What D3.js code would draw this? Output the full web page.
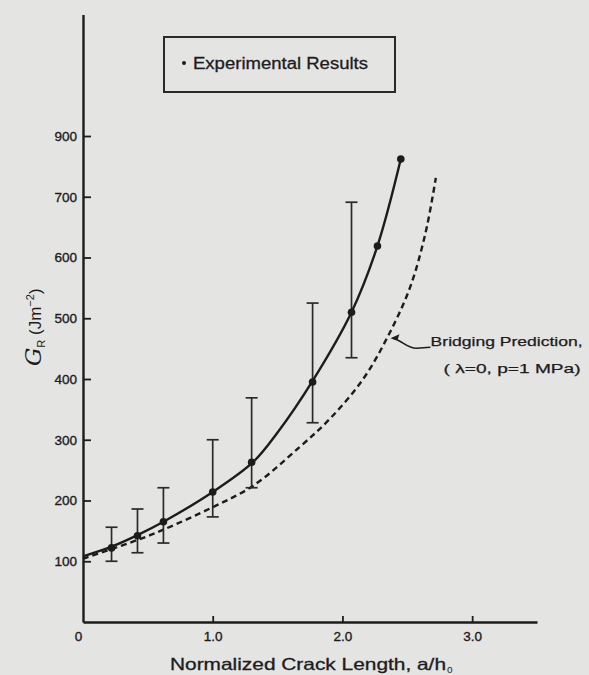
<!DOCTYPE html>
<html>
<head>
<meta charset="utf-8">
<script src="https://cdn.jsdelivr.net/npm/d3@7"></script>
<style>
  html, body { margin: 0; padding: 0; background: #e4e4e2; }
  svg { display: block; }
  text { font-family: "Liberation Sans", Arial, sans-serif; fill: #1c1c1c; }
</style>
</head>
<body>
<svg id="chart" width="589" height="675"></svg>
<script>
// ── Data ─────────────────────────────────────────────────────────────
const expX    = [0.22, 0.42, 0.62, 1.0, 1.3, 1.77, 2.07, 2.27, 2.45];
const expG    = [122, 142, 165, 214, 263, 395, 510, 619, 762];
const errHigh = [156, 186, 221, 300, 369, 525, 691, null, null];
const errLow  = [100, 114, 130, 173, 221, 328, 435, null, null];

// solid fit through experiments
const fitX = [0, 0.22, 0.42, 0.62, 1.0, 1.31, 1.5, 1.77, 2.07, 2.27, 2.45];
const fitG = [108, 124, 143, 165, 214, 263, 312, 397, 510, 619, 762];

// dashed bridging prediction
const bridgeX = [0, 0.42, 0.62, 1.0, 1.31, 1.67, 1.91, 2.16, 2.35, 2.52, 2.64, 2.72];
const bridgeG = [104, 135, 152, 189, 224, 288, 336, 400, 470, 550, 640, 731];

const xTickValues = [0, 1, 2, 3];
const xTickLabels = ['0', '1.0', '2.0', '3.0'];
const yTickValues = [100, 200, 300, 400, 500, 600, 700, 800];
const yTickLabels = ['100', '200', '300', '400', '500', '600', '700', '900']; // printed that way in the source

// ── Scales ───────────────────────────────────────────────────────────
const svg = d3.select('#chart');
const x = d3.scaleLinear().domain([0, 3.5]).range([83, 537]);
const y = d3.scaleLinear().domain([0, 1000]).range([622, 14.5]);
const INK = '#1c1c1c';

// ── Axes ─────────────────────────────────────────────────────────────
const xAxis = svg.append('g')
  .attr('transform', `translate(0,${y(0)})`)
  .call(d3.axisBottom(x)
    .tickValues(xTickValues)
    .tickFormat((d, i) => xTickLabels[i])
    .tickSize(-6).tickSizeOuter(0).tickPadding(9));
xAxis.select('.domain').attr('stroke', INK).attr('stroke-width', 2.4);
xAxis.selectAll('.tick line').attr('stroke', INK).attr('stroke-width', 1.8)
  .filter(d => d === 0).remove();
xAxis.selectAll('.tick text').attr('font-size', 13.5).attr('fill', INK)
  .attr('stroke', INK).attr('stroke-width', 0.35)
  .attr('dx', d => d === 0 ? -5 : 0);

const yAxis = svg.append('g')
  .attr('transform', `translate(${x(0)},0)`)
  .call(d3.axisLeft(y)
    .tickValues(yTickValues)
    .tickFormat((d, i) => yTickLabels[i])
    .tickSize(-8).tickSizeOuter(0).tickPadding(6));
yAxis.select('.domain').attr('stroke', INK).attr('stroke-width', 2.4);
yAxis.selectAll('.tick line').attr('stroke', INK).attr('stroke-width', 1.8);
yAxis.selectAll('.tick text').attr('font-size', 13.5).attr('fill', INK)
  .attr('stroke', INK).attr('stroke-width', 0.35);

// ── Axis titles ──────────────────────────────────────────────────────
svg.append('text')
  .attr('x', 170).attr('y', 670)
  .attr('font-size', 16.5)
  .attr('stroke', INK).attr('stroke-width', 0.3)
  .attr('textLength', 276).attr('lengthAdjust', 'spacingAndGlyphs')
  .text('Normalized Crack Length, a/h');
svg.append('text')
  .attr('x', 447).attr('y', 673)
  .attr('font-size', 10)
  .text('o');

const yTitle = svg.append('text')
  .attr('transform', 'translate(41,366) rotate(-90)')
  .attr('font-size', 17);
yTitle.append('tspan')
  .attr('font-family', '"DejaVu Serif", serif').attr('font-style', 'italic')
  .attr('font-size', 23).text('G');
yTitle.append('tspan').attr('font-size', 11).attr('dy', 4).text('R');
yTitle.append('tspan').attr('dy', -4).text(' (Jm');
yTitle.append('tspan').attr('font-size', 11).attr('dy', -7).text('−2');
yTitle.append('tspan').attr('dy', 7).text(')');

// ── Curves ───────────────────────────────────────────────────────────
const line = d3.line()
  .x(d => x(d[0]))
  .y(d => y(d[1]))
  .curve(d3.curveCatmullRom.alpha(0.5));

svg.append('path')
  .datum(bridgeX.map((v, i) => [v, bridgeG[i]]))
  .attr('d', line)
  .attr('fill', 'none').attr('stroke', INK)
  .attr('stroke-width', 2.4).attr('stroke-dasharray', '6,4');

svg.append('path')
  .datum(fitX.map((v, i) => [v, fitG[i]]))
  .attr('d', line)
  .attr('fill', 'none').attr('stroke', INK).attr('stroke-width', 2.4);

// ── Error bars and points ────────────────────────────────────────────
const exp = expX.map((v, i) => ({ x: v, g: expG[i], hi: errHigh[i], lo: errLow[i] }));
const bars = svg.append('g').selectAll('g')
  .data(exp.filter(d => d.hi !== null))
  .join('g')
  .attr('stroke', '#2a2a2a').attr('stroke-width', 1.7);
bars.append('line')
  .attr('x1', d => x(d.x)).attr('x2', d => x(d.x))
  .attr('y1', d => y(d.hi)).attr('y2', d => y(d.lo));
bars.append('line')
  .attr('x1', d => x(d.x) - 6).attr('x2', d => x(d.x) + 6)
  .attr('y1', d => y(d.hi)).attr('y2', d => y(d.hi));
bars.append('line')
  .attr('x1', d => x(d.x) - 6).attr('x2', d => x(d.x) + 6)
  .attr('y1', d => y(d.lo)).attr('y2', d => y(d.lo));

svg.append('g').selectAll('circle')
  .data(exp)
  .join('circle')
  .attr('cx', d => x(d.x)).attr('cy', d => y(d.g))
  .attr('r', 3.8).attr('fill', INK);

// ── Legend box ───────────────────────────────────────────────────────
svg.append('rect')
  .attr('x', 164).attr('y', 37).attr('width', 231).attr('height', 55)
  .attr('fill', 'none').attr('stroke', '#2a2a2a').attr('stroke-width', 2);
svg.append('circle').attr('cx', 184).attr('cy', 63).attr('r', 2).attr('fill', INK);
svg.append('text')
  .attr('x', 193).attr('y', 69)
  .attr('font-size', 16)
  .attr('stroke', INK).attr('stroke-width', 0.3)
  .attr('textLength', 175).attr('lengthAdjust', 'spacingAndGlyphs')
  .text('Experimental Results');

// ── Bridging annotation ──────────────────────────────────────────────
const tipX = x(2.37), tipY = y(467);
svg.append('path')
  .attr('d', `M${tipX + 2},${tipY} C${tipX + 12},${tipY + 2} ${tipX + 16},${tipY + 10} ${tipX + 26},${tipY + 10} L${tipX + 40},${tipY + 9}`)
  .attr('fill', 'none').attr('stroke', INK).attr('stroke-width', 1.6);
svg.append('path')
  .attr('d', `M${tipX},${tipY} l9,-4 l-2,6 z`)
  .attr('fill', INK);
svg.append('text')
  .attr('x', x(2.68)).attr('y', y(455))
  .attr('font-size', 13)
  .attr('stroke', INK).attr('stroke-width', 0.25)
  .attr('textLength', 152).attr('lengthAdjust', 'spacingAndGlyphs')
  .text('Bridging Prediction,');
svg.append('text')
  .attr('x', x(2.78)).attr('y', y(410))
  .attr('font-size', 13)
  .attr('stroke', INK).attr('stroke-width', 0.25)
  .attr('textLength', 137).attr('lengthAdjust', 'spacingAndGlyphs')
  .text('( λ=0, p=1 MPa)');
</script>
</body>
</html>
